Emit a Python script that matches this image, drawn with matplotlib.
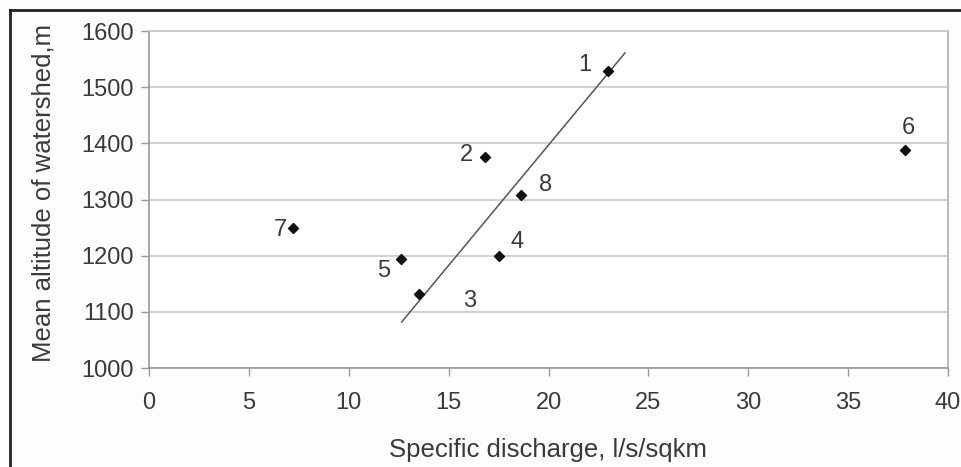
import matplotlib.pyplot as plt
from matplotlib.lines import Line2D

plt.rcParams['font.family'] = ['Liberation Sans', 'DejaVu Sans']

# watershed data
discharge = [23.0, 16.8, 13.5, 17.5, 12.6, 37.85, 7.2, 18.6]
altitude = [1529, 1376, 1132, 1199, 1194, 1388, 1249, 1308]
names = ['1', '2', '3', '4', '5', '6', '7', '8']
# label offsets in pixels (dx, dy)
offsets = [(-24, 6), (-18, 2), (51, -7), (18, 14), (-17, -12), (3, 22), (-12, -2), (25, 10)]

trend_x = [12.65, 23.83]
trend_y = [1082, 1561]

xticks = [0, 5, 10, 15, 20, 25, 30, 35, 40]
yticks = [1000, 1100, 1200, 1300, 1400, 1500, 1600]

txt = '#3a3a3a'
grid = '#c8c8c8'

fig = plt.figure(figsize=(9.61, 4.67), dpi=100)
fig.patch.set_facecolor('#fdfdfd')
ax = fig.add_axes([149 / 961, 1 - 368 / 467, (948 - 149) / 961, (368 - 31) / 467])
ax.set_facecolor('white')

ax.set_xlim(0, 40)
ax.set_ylim(1000, 1600)
ax.set_xticks(xticks)
ax.set_yticks(yticks)
ax.yaxis.grid(True, color=grid, linewidth=1.2)
ax.set_axisbelow(True)

for s in ['left', 'bottom']:
    ax.spines[s].set_color('#999999')
    ax.spines[s].set_linewidth(1.2)
ax.spines['right'].set_color('#bbbbbb')
ax.spines['right'].set_linewidth(1.5)
ax.spines['top'].set_color(grid)
ax.spines['top'].set_linewidth(1.2)

ax.tick_params(axis='both', direction='out', length=6, width=1, color='#999999',
               labelsize=17, labelcolor=txt)
ax.tick_params(axis='x', pad=11)
ax.tick_params(axis='y', pad=5)

ax.plot(trend_x, trend_y, color='#555555', linewidth=1.1)
ax.scatter(discharge, altitude, marker='D', s=26, color='#111111', zorder=3)

for x, y, n, (dx, dy) in zip(discharge, altitude, names, offsets):
    ax.annotate(n, (x, y), xytext=(dx, dy), textcoords='offset pixels',
                ha='center', va='center', fontsize=17, color=txt)

fig.text(548 / 961, 1 - 457 / 467, 'Specific discharge, l/s/sqkm',
         ha='center', va='baseline', fontsize=18.5, color=txt)
fig.text(44 / 961, 1 - 193 / 467, 'Mean altitude of watershed,m', rotation=90,
         ha='center', va='center', fontsize=18.5, color=txt)

# outer frame (top and left edges)
fig.add_artist(Line2D([10 / 961, 1], [1 - 10 / 467, 1 - 10 / 467], color='#222222', linewidth=2))
fig.add_artist(Line2D([10 / 961, 10 / 961], [0, 1 - 10 / 467], color='#222222', linewidth=2))

fig.savefig('out.png', dpi=100)
